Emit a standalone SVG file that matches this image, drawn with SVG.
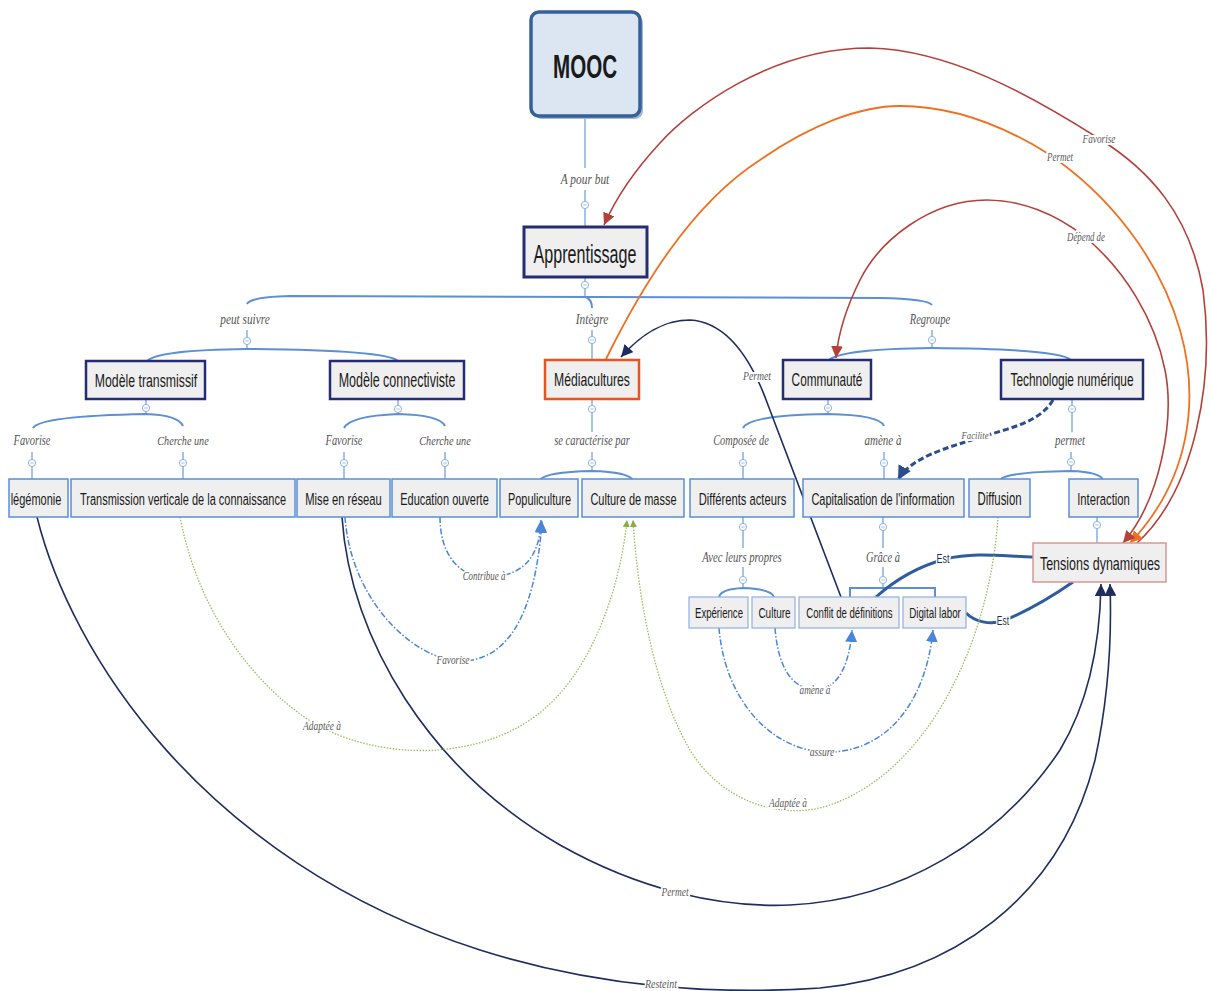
<svg xmlns="http://www.w3.org/2000/svg" xmlns:xlink="http://www.w3.org/1999/xlink" width="1212" height="991" viewBox="0 0 1212 991">
<style>
.bg{fill:#ffffff}
.n2{fill:#efefef;stroke:#262c74;stroke-width:2.5}
.n3{fill:#efefef;stroke:#5b8fd6;stroke-width:1.5}
.n4{fill:#efefef;stroke:#8fb0dc;stroke-width:1.2}
.nt{font-family:"Liberation Sans",Arial,sans-serif;fill:#1a1a1a;text-anchor:middle}
.lbl{font-family:"Liberation Serif","Times New Roman",serif;font-style:italic;fill:#555555;text-anchor:middle}
.cl{font-family:"Liberation Serif","Times New Roman",serif;font-style:italic;fill:#5a5a5a;text-anchor:middle;stroke:#ffffff;stroke-width:3;paint-order:stroke;stroke-linejoin:round}
.est{font-family:"Liberation Sans",Arial,sans-serif;fill:#1f2f5a;text-anchor:middle;stroke:#ffffff;stroke-width:2.5;paint-order:stroke}
.tree{fill:none;stroke:#6a9bd8;stroke-width:1.2}
.brace{fill:none;stroke:#5b8fd6;stroke-width:2}
.col{fill:#ffffff;stroke:#8db3e2;stroke-width:1}
.colm{stroke:#8db3e2;stroke-width:0.8}
.red{fill:none;stroke:#b5403a;stroke-width:1.6}
.org{fill:none;stroke:#f07020;stroke-width:1.8}
.navy{fill:none;stroke:#1f2d5e;stroke-width:1.6}
.est-l{fill:none;stroke:#2e5c9e;stroke-width:3}
.fac{fill:none;stroke:#2a4d8f;stroke-width:3;stroke-dasharray:6 3}
.dd{fill:none;stroke:#4a86d8;stroke-width:1.5;stroke-dasharray:6 2 1.5 2}
.grn{fill:none;stroke:#9bbb59;stroke-width:1.3;stroke-dasharray:1.5 1.5}
</style>
<defs>
<marker id="mRed" markerUnits="userSpaceOnUse" markerWidth="12" markerHeight="12" refX="10" refY="5" orient="auto" viewBox="0 0 10 10"><path d="M0,0 L10,5 L0,10 z" fill="#b5403a"/></marker>
<marker id="mOrg" markerUnits="userSpaceOnUse" markerWidth="12" markerHeight="12" refX="10" refY="5" orient="auto" viewBox="0 0 10 10"><path d="M0,0 L10,5 L0,10 z" fill="#f07020"/></marker>
<marker id="mNavy" markerUnits="userSpaceOnUse" markerWidth="12" markerHeight="12" refX="10" refY="5" orient="auto" viewBox="0 0 10 10"><path d="M0,0 L10,5 L0,10 z" fill="#1f2d5e"/></marker>
<marker id="mFac" markerUnits="userSpaceOnUse" markerWidth="14" markerHeight="14" refX="10" refY="5" orient="auto" viewBox="0 0 10 10"><path d="M0,0 L10,5 L0,10 z" fill="#2a4d8f"/></marker>
<marker id="mBlue" markerUnits="userSpaceOnUse" markerWidth="12" markerHeight="12" refX="10" refY="5" orient="auto" viewBox="0 0 10 10"><path d="M0,0 L10,5 L0,10 z" fill="#4a86d8"/></marker>
<marker id="mGrn" markerUnits="userSpaceOnUse" markerWidth="7" markerHeight="7" refX="10" refY="5" orient="auto" viewBox="0 0 10 10"><path d="M0,0 L10,5 L0,10 z" fill="#8aab45"/></marker>
<g id="cic"><circle class="col" cx="0" cy="0" r="3.6"/><path class="colm" d="M-1.8 0 H1.8"/></g>
</defs>
<rect class="bg" x="0" y="0" width="1212" height="991"/>

<g id="tree-lines">
<path class="tree" d="M585 116 L585 168 M585 190 L585 227"/>
<path class="tree" d="M585 277 L585 297"/>
<path class="brace" d="M247 304 Q250 297 290 296 L880 298 Q928 299 932 305"/>
<path class="brace" d="M586 297 Q592 300 592 308"/>
<path class="tree" d="M592 330 L592 359"/>
<path class="tree" d="M247 330 L247 350"/>
<path class="tree" d="M932 330 L932 348"/>
<path class="brace" d="M147 361 Q158 350 247 349 Q385 350 398 361"/>
<path class="brace" d="M829 360 Q842 349 932 348 Q1060 349 1071 360"/>
<path class="tree" d="M146 399 L146 414"/>
<path class="brace" d="M33 428 Q40 416 146 414 Q178 415 183 426"/>
<path class="tree" d="M32 452 L32 479 M183 452 L183 479"/>
<path class="tree" d="M398 399 L398 414"/>
<path class="brace" d="M344 428 Q350 416 398 414 Q440 415 445 426"/>
<path class="tree" d="M344 452 L344 479 M445 452 L445 479"/>
<path class="tree" d="M592 399 L592 432 M592 452 L592 471"/>
<path class="brace" d="M540 480 Q545 472 592 471 Q628 472 633 480"/>
<path class="tree" d="M828 399 L828 414"/>
<path class="brace" d="M743 428 Q750 415 828 414 Q880 415 884 426"/>
<path class="tree" d="M743 452 L743 479 M884 452 L884 479"/>
<path class="tree" d="M1072 399 L1072 432 M1071 452 L1071 471"/>
<path class="brace" d="M1000 480 Q1005 472 1071 471 Q1100 472 1103 480"/>
<path class="tree" d="M743 517 L743 548 M743 567 L743 588"/>
<path class="brace" d="M719 597 Q721 589 743 588 Q771 589 774 597"/>
<path class="tree" d="M883 517 L883 548 M883 567 L883 588"/>
<path class="brace" d="M850 597 L850 588 L935 588 L935 597" stroke-width="1.5"/>
<path class="tree" d="M1097 517 L1097 543"/>
<g id="collapse-icons">
<use xlink:href="#cic" x="585" y="205"/><use xlink:href="#cic" x="585" y="285"/>
<use xlink:href="#cic" x="247" y="341"/><use xlink:href="#cic" x="592" y="340"/><use xlink:href="#cic" x="932" y="340"/>
<use xlink:href="#cic" x="146" y="408"/><use xlink:href="#cic" x="398" y="409"/><use xlink:href="#cic" x="592" y="409"/><use xlink:href="#cic" x="828" y="408"/><use xlink:href="#cic" x="1072" y="409"/>
<use xlink:href="#cic" x="32" y="463"/><use xlink:href="#cic" x="183" y="463"/><use xlink:href="#cic" x="344" y="463"/><use xlink:href="#cic" x="445" y="463"/><use xlink:href="#cic" x="592" y="463"/><use xlink:href="#cic" x="743" y="463"/><use xlink:href="#cic" x="884" y="463"/><use xlink:href="#cic" x="1071" y="462"/>
<use xlink:href="#cic" x="743" y="527"/><use xlink:href="#cic" x="883" y="527"/><use xlink:href="#cic" x="743" y="580"/><use xlink:href="#cic" x="883" y="580"/><use xlink:href="#cic" x="1097" y="525"/>
</g>
<g id="tree-labels">
<text class="lbl" transform="translate(585,184) scale(1,1.3)" font-size="11.4">A pour but</text>
<text class="lbl" transform="translate(245,324) scale(1,1.3)" font-size="11.3">peut suivre</text>
<text class="lbl" transform="translate(592,324) scale(1,1.3)" font-size="11.4">Intègre</text>
<text class="lbl" transform="translate(930,324) scale(1,1.3)" font-size="10.5">Regroupe</text>
<text class="lbl" transform="translate(32,445) scale(1,1.3)" font-size="10.4">Favorise</text>
<text class="lbl" transform="translate(183,445) scale(1,1.3)" font-size="10.2">Cherche une</text>
<text class="lbl" transform="translate(344,445) scale(1,1.3)" font-size="10.4">Favorise</text>
<text class="lbl" transform="translate(445,445) scale(1,1.3)" font-size="10.2">Cherche une</text>
<text class="lbl" transform="translate(592,445) scale(1,1.3)" font-size="10.5">se caractérise par</text>
<text class="lbl" transform="translate(741,445) scale(1,1.3)" font-size="10.4">Composée de</text>
<text class="lbl" transform="translate(883,445) scale(1,1.3)" font-size="11">amène à</text>
<text class="lbl" transform="translate(1070,445) scale(1,1.3)" font-size="10.8">permet</text>
<text class="lbl" transform="translate(742,562) scale(1,1.3)" font-size="10.7">Avec leurs propres</text>
<text class="lbl" transform="translate(883,562) scale(1,1.3)" font-size="10.5">Grâce à</text>
</g>
</g>

<g id="connectors">
<path class="red" marker-end="url(#mRed)" d="M1137 543 C1195 490 1215 380 1203 290 C1190 215 1150 170 1098 138 C1030 95 950 50 870 48 C770 48 690 110 660 143 C635 170 615 200 604 225"/>
<path class="org" d="M606 359 C640 290 690 205 760 160 C810 125 860 106 900 106 C960 106 1010 130 1047 153 C1110 195 1160 260 1180 330"/>
<path class="org" marker-end="url(#mOrg)" d="M1180 330 C1200 400 1190 480 1130 543"/>
<path class="red" marker-end="url(#mRed)" d="M1165 370 C1175 420 1160 500 1123 543"/>
<path class="red" marker-end="url(#mRed)" d="M1165 370 C1155 320 1125 270 1085 237 C1055 213 1020 200 987 200 C930 200 880 240 860 280 C845 310 838 335 836 358"/>
<path class="navy" marker-end="url(#mNavy)" stroke-width="2" d="M841 597 L768 405 C750 355 725 322 690 320 C660 320 638 338 621 357"/>
<path class="fac" marker-end="url(#mFac)" d="M1053 400 C1040 422 1010 428 985 436 C945 448 910 458 898 480"/>
<path class="est-l" d="M876 597 C895 580 920 566 945 559 C975 552 1000 556 1033 557"/>
<path class="est-l" d="M1073 582 C1050 598 1025 612 1003 621 C990 625 975 622 966 613"/>
<path class="navy" marker-end="url(#mNavy)" d="M37 517 C70 650 200 860 480 950 C600 988 720 995 820 988 C950 975 1060 900 1095 760 C1108 700 1112 640 1110 584"/>
<path class="navy" marker-end="url(#mNavy)" d="M342 517 C350 640 430 770 560 845 C640 890 720 908 790 905 C900 900 1000 840 1060 750 C1090 700 1100 640 1101 584"/>
<path class="grn" marker-end="url(#mGrn)" d="M180 517 C200 620 260 690 315 724 C380 760 470 760 530 720 C590 680 620 590 627 520"/>
<path class="grn" marker-end="url(#mGrn)" d="M998 517 C990 640 930 770 830 805 C780 822 720 800 690 750 C655 690 638 600 633 520"/>
<path class="dd" marker-end="url(#mBlue)" d="M440 517 C440 550 455 575 484 577 C520 578 540 560 541 520"/>
<path class="dd" marker-end="url(#mBlue)" d="M345 517 C350 590 400 650 453 661 C505 665 535 620 542 521"/>
<path class="dd" marker-end="url(#mBlue)" d="M775 628 C778 665 790 688 815 690 C840 690 850 660 852 630"/>
<path class="dd" marker-end="url(#mBlue)" d="M719 628 C725 700 770 748 822 752 C880 755 925 710 933 630"/>
<g id="connector-labels">
<text class="cl" transform="translate(1099,143) scale(1,1.3)" font-size="9.3">Favorise</text>
<text class="cl" transform="translate(1060,161) scale(1,1.3)" font-size="9">Permet</text>
<text class="cl" transform="translate(1086,241) scale(1,1.3)" font-size="8.8">Dépend de</text>
<text class="cl" transform="translate(757,380) scale(1,1.3)" font-size="9.7">Permet</text>
<text class="cl" transform="translate(975,439) scale(1,1.3)" font-size="8.7">Facilite</text>
<text class="est" transform="translate(943,563) scale(1,1.45)" font-size="9">Est</text>
<text class="est" transform="translate(1003,625) scale(1,1.45)" font-size="8.5">Est</text>
<text class="cl" transform="translate(484,580) scale(1,1.3)" font-size="8.9">Contribue à</text>
<text class="cl" transform="translate(453,664) scale(1,1.3)" font-size="9.3">Favorise</text>
<text class="cl" transform="translate(815,694) scale(1,1.3)" font-size="9.2">amène à</text>
<text class="cl" transform="translate(822,756) scale(1,1.3)" font-size="9.6">assure</text>
<text class="cl" transform="translate(322,730) scale(1,1.3)" font-size="9.4">Adaptée à</text>
<text class="cl" transform="translate(788,807) scale(1,1.3)" font-size="9.4">Adaptée à</text>
<text class="cl" transform="translate(675,896) scale(1,1.3)" font-size="9.35">Permet</text>
<text class="cl" transform="translate(661,988) scale(1,1.3)" font-size="9.9">Resteint</text>
</g>
</g>

<g id="node-mooc">
<rect x="534" y="15" width="109" height="104" rx="8" fill="#a7b6c8"/>
<rect x="531" y="12" width="109" height="104" rx="8" fill="#dce6f2" stroke="#35619a" stroke-width="3.5"/>
<text class="nt" transform="translate(585,78) scale(1,1.62)" font-size="20.6" font-weight="bold">MOOC</text>
</g>
<g id="node-apprentissage">
<rect x="524" y="227" width="123" height="50" fill="#efefef" stroke="#262c74" stroke-width="3"/>
<text class="nt" transform="translate(585,263) scale(1,1.58)" font-size="16.1">Apprentissage</text>
</g>
<g id="node-modele-transmissif">
<rect class="n2" x="86" y="361" width="119" height="38"/>
<text class="nt" transform="translate(146,387) scale(1,1.55)" font-size="12.3">Modèle transmissif</text>
</g>
<g id="node-modele-connectiviste">
<rect class="n2" x="330" y="361" width="134" height="38"/>
<text class="nt" transform="translate(397,387) scale(1,1.55)" font-size="12.5">Modèle connectiviste</text>
</g>
<g id="node-mediacultures">
<rect x="545" y="360" width="94" height="39" fill="#efefef" stroke="#e8541e" stroke-width="2.5"/>
<text class="nt" transform="translate(592,386) scale(1,1.55)" font-size="12.2">Médiacultures</text>
</g>
<g id="node-communaute">
<rect class="n2" x="783" y="360" width="88" height="39"/>
<text class="nt" transform="translate(827,386) scale(1,1.55)" font-size="11.8">Communauté</text>
</g>
<g id="node-technologie">
<rect class="n2" x="1001" y="360" width="142" height="39"/>
<text class="nt" transform="translate(1072,386) scale(1,1.55)" font-size="11.9">Technologie numérique</text>
</g>
<g id="node-hegemonie">
<rect class="n3" x="9" y="479" width="59" height="38"/>
<text class="nt" transform="translate(36,505) scale(1,1.53)" font-size="11">légémonie</text>
</g>
<g id="node-transmission">
<rect class="n3" x="71" y="479" width="224" height="38"/>
<text class="nt" transform="translate(183,505) scale(1,1.53)" font-size="11">Transmission verticale de la connaissance</text>
</g>
<g id="node-mise-en-reseau">
<rect class="n3" x="297" y="479" width="93" height="38"/>
<text class="nt" transform="translate(343.5,505) scale(1,1.53)" font-size="11.2">Mise en réseau</text>
</g>
<g id="node-education-ouverte">
<rect class="n3" x="392" y="479" width="105" height="38"/>
<text class="nt" transform="translate(444.5,505) scale(1,1.53)" font-size="11">Education ouverte</text>
</g>
<g id="node-populiculture">
<rect class="n3" x="500" y="479" width="78" height="38"/>
<text class="nt" transform="translate(539.5,505) scale(1,1.53)" font-size="10.9">Populiculture</text>
</g>
<g id="node-culture-de-masse">
<rect class="n3" x="582" y="479" width="102" height="38"/>
<text class="nt" transform="translate(633.5,505) scale(1,1.53)" font-size="11">Culture de masse</text>
</g>
<g id="node-differents-acteurs">
<rect class="n3" x="690" y="479" width="104" height="38"/>
<text class="nt" transform="translate(742.5,505) scale(1,1.53)" font-size="11.2">Différents acteurs</text>
</g>
<g id="node-capitalisation">
<rect class="n3" x="803" y="479" width="161" height="38"/>
<text class="nt" transform="translate(883,505) scale(1,1.53)" font-size="11">Capitalisation de l'information</text>
</g>
<g id="node-diffusion">
<rect class="n3" x="969" y="479" width="61" height="38"/>
<text class="nt" transform="translate(999.5,505) scale(1,1.53)" font-size="11.4">Diffusion</text>
</g>
<g id="node-interaction">
<rect class="n3" x="1069" y="479" width="69" height="38"/>
<text class="nt" transform="translate(1103.5,505) scale(1,1.53)" font-size="11.3">Interaction</text>
</g>
<g id="node-tensions">
<rect x="1033" y="543" width="133" height="39" fill="#efefef" stroke="#d99694" stroke-width="1.5"/>
<text class="nt" transform="translate(1100,570) scale(1,1.52)" font-size="12.5">Tensions dynamiques</text>
</g>
<g id="node-experience">
<rect class="n4" x="689" y="597" width="59" height="31"/>
<text class="nt" transform="translate(719,618) scale(1,1.53)" font-size="9.6">Expérience</text>
</g>
<g id="node-culture">
<rect class="n4" x="752" y="597" width="43" height="31"/>
<text class="nt" transform="translate(774.5,618) scale(1,1.53)" font-size="10">Culture</text>
</g>
<g id="node-conflit">
<rect class="n4" x="799" y="597" width="100" height="31"/>
<text class="nt" transform="translate(849.5,618) scale(1,1.53)" font-size="9.6">Conflit de définitions</text>
</g>
<g id="node-digital-labor">
<rect class="n4" x="903" y="597" width="63" height="31"/>
<text class="nt" transform="translate(935,618) scale(1,1.53)" font-size="9.8">Digital labor</text>
</g>
</svg>
